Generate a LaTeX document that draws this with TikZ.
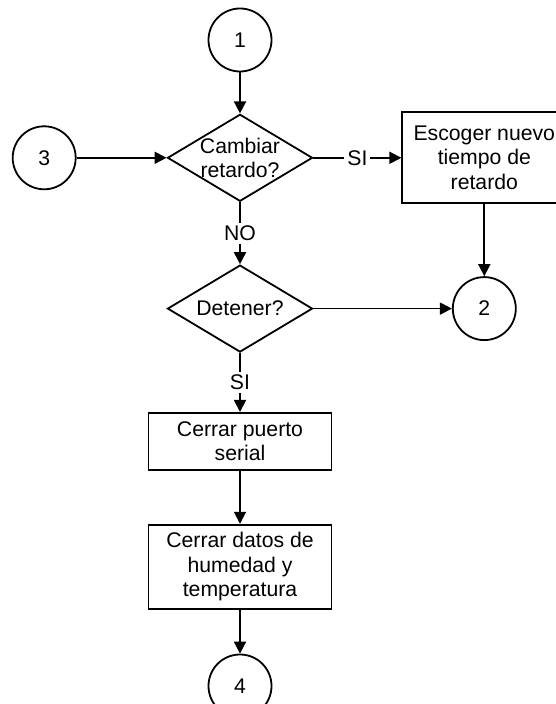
\documentclass[tikz,border=0pt]{standalone}
\usepackage{fontspec}
\setmainfont{Liberation Sans}
\usetikzlibrary{positioning, arrows.meta, shapes.geometric}

\begin{document}
\begin{tikzpicture}[
    ->,>={Triangle[length=6pt,width=6pt]},
    line width=0.9pt,
    font={\fontsize{10.6pt}{12.3pt}\selectfont},
    connector/.style={draw, circle, minimum size=31.5pt, inner sep=0pt},
    decision/.style={draw, diamond, shape aspect=1.667, minimum width=72.5pt, minimum height=43.5pt, inner sep=0pt},
    process/.style={draw, rectangle, align=center, minimum width=91.5pt, inner sep=0pt},
    answer/.style={fill=white, inner sep=1.5pt},
]
\useasboundingbox (-120pt,-332pt) rectangle (157.5pt,20pt);

\node[connector] (c1) at (0,0) {1};
\node[decision, below=20.5pt of c1, label={[align=center]center:Cambiar\\retardo?}] (d1) {};
\node[connector, left=45pt of d1] (c3) {3};
\node[process, right=44pt of d1, minimum width=82pt, minimum height=45.5pt] (e) {Escoger nuevo\\tiempo de\\retardo};
\node[decision, below=31pt of d1] (d2) {Detener?};
\node[connector] (c2) at (e |- d2) {2};
\node[process, below=29.5pt of d2, minimum height=28.5pt] (b1) {Cerrar puerto\\serial};
\node[process, below=26.5pt of b1, minimum height=42pt] (b2) {Cerrar datos de\\humedad y\\temperatura};
\node[connector, below=22pt of b2] (c4) {4};

\draw (c1) -- (d1);
\draw (c3) -- (d1);
\draw (d1) -- node[answer] (si1) {SI} (e);
\draw (d1) -- node[answer] (no1) {NO} (d2);
\draw (e) -- (c2);
\draw (d2) -- (c2);
\draw (d2) -- node[answer] (si2) {SI} (b1);
\draw (b1) -- (b2);
\draw (b2) -- (c4);
\end{tikzpicture}
\end{document}
